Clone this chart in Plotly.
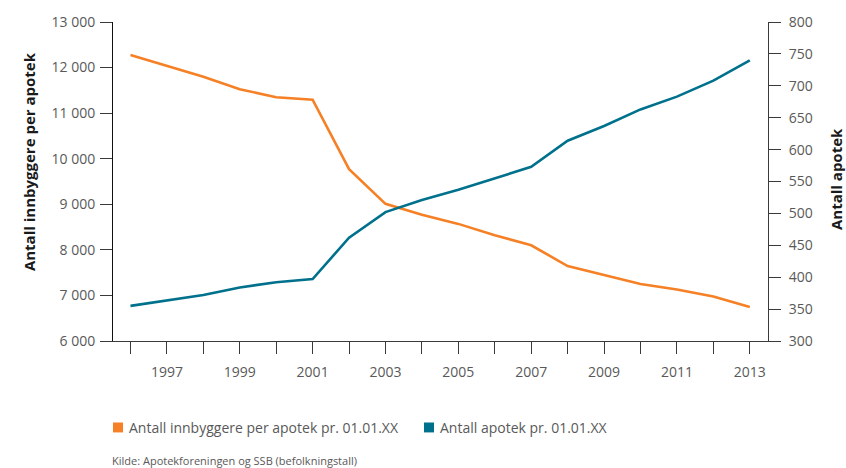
import plotly.graph_objects as go

# Data series
years = list(range(1996, 2014))
innbyggere_per_apotek = [12275, 12035, 11800, 11525, 11350, 11295, 9770, 9010, 8770,
                         8570, 8320, 8100, 7645, 7450, 7250, 7130, 6975, 6745]
antall_apotek = [355, 363, 372, 384, 392, 397, 462, 502, 521,
                 537, 555, 573, 614, 637, 663, 683, 708, 740]

series_names = ["Antall innbyggere per apotek pr. 01.01.XX", "Antall apotek pr. 01.01.XX"]
series_colors = ["#F58025", "#00718C"]
x_tick_text = [str(y) if y % 2 == 1 else "" for y in years]
left_ticks = list(range(6000, 13001, 1000))
right_ticks = list(range(300, 801, 50))
left_title = "Antall innbyggere per apotek"
right_title = "Antall apotek"
source_text = "Kilde: Apotekforeningen og SSB (befolkningstall)"

FONT = "Open Sans"
TICK_COLOR = "#595959"
AXIS_COLOR = "#3a3a3a"
TITLE_COLOR = "#1a1a1a"

# Plot-area geometry in pixels, used to place paper-referenced extras
PX_L, PX_R, PX_T, PX_B = 113, 768, 20, 341
PW, PH = PX_R - PX_L, PX_B - PX_T


def px(x):
    return (x - PX_L) / PW


def py(y):
    return (PX_B - y) / PH


fig = go.Figure()
fig.add_trace(go.Scatter(x=years, y=innbyggere_per_apotek, mode="lines",
                         name=series_names[0], line=dict(color=series_colors[0], width=2.6),
                         yaxis="y", showlegend=False))
fig.add_trace(go.Scatter(x=years, y=antall_apotek, mode="lines",
                         name=series_names[1], line=dict(color=series_colors[1], width=2.6),
                         yaxis="y2", showlegend=False))

# Legend built from coloured squares and labels below the plot
legend_x = [113, 424]
for name, color, lx in zip(series_names, series_colors, legend_x):
    fig.add_shape(type="rect", xref="paper", yref="paper",
                  x0=px(lx), x1=px(lx + 10), y0=py(433), y1=py(423),
                  fillcolor=color, line=dict(width=0))
    fig.add_annotation(text=name, xref="paper", yref="paper",
                       x=px(lx + 14), y=py(428),
                       xanchor="left", yanchor="middle", showarrow=False,
                       font=dict(family=FONT, size=14, color=TICK_COLOR))

fig.add_annotation(text=source_text, xref="paper", yref="paper", x=px(110), y=py(461),
                   xanchor="left", yanchor="middle", showarrow=False,
                   font=dict(family=FONT, size=11, color=TICK_COLOR))

# Rotated axis titles
fig.add_annotation(text="<b>" + left_title + "</b>", xref="paper", yref="paper",
                   x=px(29), y=py(161), textangle=-90, showarrow=False,
                   xanchor="center", yanchor="middle",
                   font=dict(family=FONT, size=15, color=TITLE_COLOR))
fig.add_annotation(text="<b>" + right_title + "</b>", xref="paper", yref="paper",
                   x=px(836), y=py(178), textangle=-90, showarrow=False,
                   xanchor="center", yanchor="middle",
                   font=dict(family=FONT, size=15, color=TITLE_COLOR))

fig.update_layout(
    width=846, height=468,
    margin=dict(l=PX_L, r=846 - PX_R, t=PX_T, b=468 - PX_B),
    paper_bgcolor="white", plot_bgcolor="white",
    separators=", ",
    font=dict(family=FONT, size=14, color=TICK_COLOR),
    xaxis=dict(range=[1995.52, 2013.5], tickvals=years, ticktext=x_tick_text,
               showgrid=False, zeroline=False, showline=True, linecolor=AXIS_COLOR,
               linewidth=1, ticks="outside", ticklen=12, tickcolor=AXIS_COLOR,
               ticklabelstandoff=6,
               tickfont=dict(family=FONT, size=14, color=TICK_COLOR)),
    yaxis=dict(range=[6000, 13000], tickvals=left_ticks, tickformat=",d",
               showgrid=False, zeroline=False, showline=True, linecolor="#111111",
               linewidth=1, ticks="outside", ticklen=12, tickcolor=AXIS_COLOR,
               ticklabelstandoff=2,
               tickfont=dict(family=FONT, size=14, color=TICK_COLOR)),
    yaxis2=dict(range=[300, 800], tickvals=right_ticks, overlaying="y", side="right",
                showgrid=False, zeroline=False, showline=True, linecolor=AXIS_COLOR,
                linewidth=1, ticks="outside", ticklen=12, tickcolor=AXIS_COLOR,
                ticklabelstandoff=5,
                tickfont=dict(family=FONT, size=14, color=TICK_COLOR)),
)

fig.write_html("out.html")
